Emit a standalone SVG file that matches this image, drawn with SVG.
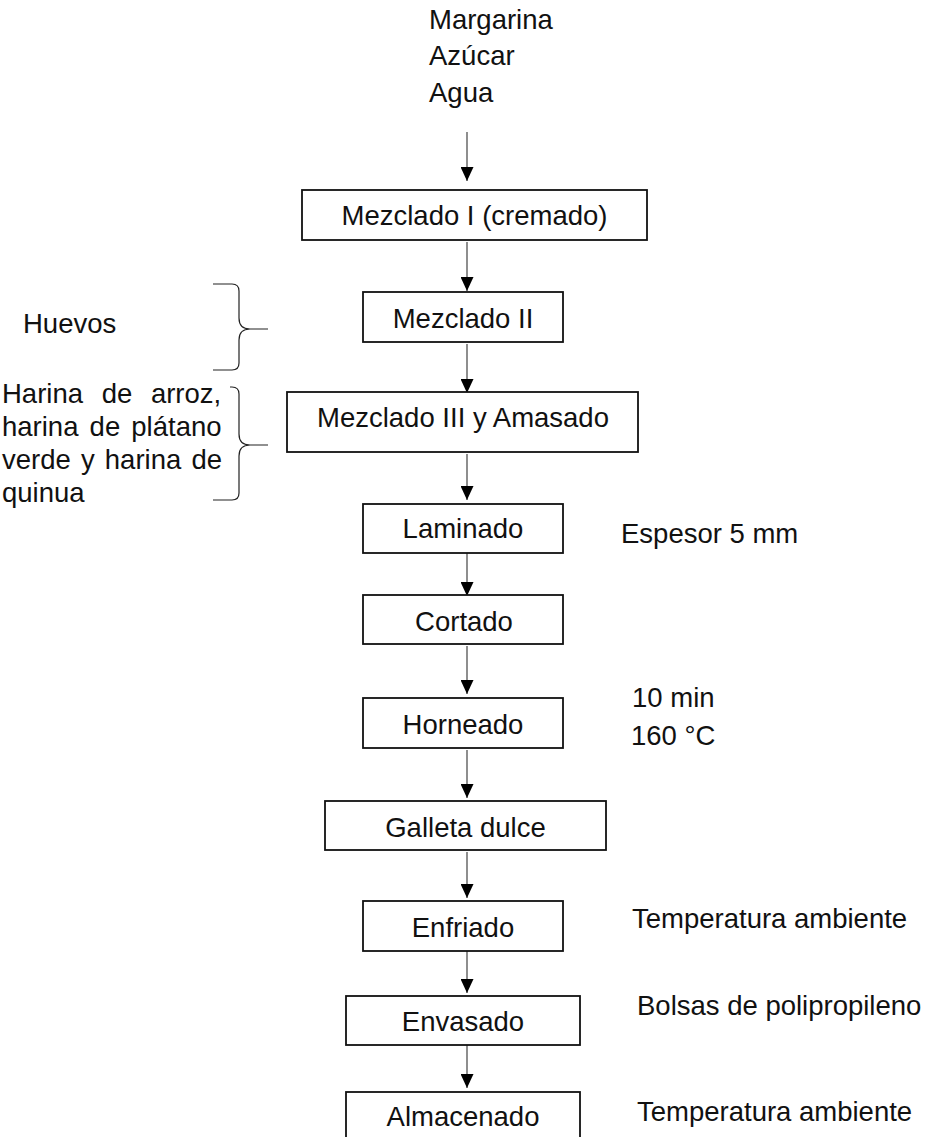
<svg xmlns="http://www.w3.org/2000/svg" width="928" height="1137" viewBox="0 0 928 1137">
<style>
text{font-family:"Liberation Sans",Arial,Helvetica,sans-serif;font-size:27.5px;fill:#111}
.c{text-anchor:middle}
.box{fill:#fff;stroke:#111;stroke-width:1.8}
.ln{stroke:#444;stroke-width:1.2;fill:none}
.br{stroke:#222;stroke-width:1.2;fill:none}
</style>
<defs>
<marker id="ah" markerWidth="14" markerHeight="13" refX="14" refY="6.5" orient="auto" markerUnits="userSpaceOnUse" viewBox="0 0 14 13">
<path d="M0,0 L14,6.5 L0,13 Z" fill="#000"/>
</marker>
</defs>
<rect width="928" height="1137" fill="#fff"/>
<g id="inputs-top">
<text x="429" y="29">Margarina</text>
<text x="429" y="65">Azúcar</text>
<text x="429" y="102">Agua</text>
</g>
<g id="input-huevos">
<text x="23" y="333">Huevos</text>
<path class="br" d="M213,284 L232,284 Q239,284 239,291 L239,318 Q239,329 250,329 L268,329 M239,363 L239,340 Q239,329 250,329 M213,370 L232,370 Q239,370 239,363"/>
</g>
<g id="input-harinas">
<text x="2" y="403" word-spacing="11">Harina de arroz,</text>
<text x="2" y="436" word-spacing="3.5">harina de plátano</text>
<text x="2" y="469" word-spacing="2.5">verde y harina de</text>
<text x="2" y="502">quinua</text>
<path class="br" d="M230,387 L232,387 Q239,387 239,394 L239,434 Q239,445 250,445 L268,445 M239,493 L239,456 Q239,445 250,445 M213,500 L232,500 Q239,500 239,493"/>
</g>
<g id="connectors">
<line class="ln" x1="467" y1="132" x2="467" y2="181" marker-end="url(#ah)"/>
<line class="ln" x1="467" y1="242" x2="467" y2="291" marker-end="url(#ah)"/>
<line class="ln" x1="467" y1="344" x2="467" y2="393" marker-end="url(#ah)"/>
<line class="ln" x1="467" y1="454" x2="467" y2="500" marker-end="url(#ah)"/>
<line class="ln" x1="467" y1="549" x2="467" y2="596" marker-end="url(#ah)"/>
<line class="ln" x1="467" y1="646" x2="467" y2="694" marker-end="url(#ah)"/>
<line class="ln" x1="467" y1="750" x2="467" y2="798" marker-end="url(#ah)"/>
<line class="ln" x1="467" y1="852" x2="467" y2="898" marker-end="url(#ah)"/>
<line class="ln" x1="467" y1="946" x2="467" y2="993" marker-end="url(#ah)"/>
<line class="ln" x1="467" y1="1040" x2="467" y2="1088" marker-end="url(#ah)"/>
</g>
<g id="mezclado1"><rect class="box" x="302" y="190" width="345" height="50"/><text class="c" x="474.5" y="225">Mezclado I (cremado)</text></g>
<g id="mezclado2"><rect class="box" x="363" y="292" width="200" height="50"/><text class="c" x="463" y="328">Mezclado II</text></g>
<g id="mezclado3"><rect class="box" x="287" y="392" width="351" height="60"/><text class="c" x="463" y="427">Mezclado III y Amasado</text></g>
<g id="laminado"><rect class="box" x="363" y="504" width="200" height="49"/><text class="c" x="463" y="538">Laminado</text></g>
<g id="cortado"><rect class="box" x="363" y="595" width="200" height="49"/><text class="c" x="464" y="631">Cortado</text></g>
<g id="horneado"><rect class="box" x="363" y="698" width="200" height="50"/><text class="c" x="463" y="734">Horneado</text></g>
<g id="galleta"><rect class="box" x="325" y="801" width="281" height="49"/><text class="c" x="465.5" y="837">Galleta dulce</text></g>
<g id="enfriado"><rect class="box" x="363" y="901" width="200" height="50"/><text class="c" x="463" y="937">Enfriado</text></g>
<g id="envasado"><rect class="box" x="346" y="996" width="234" height="49"/><text class="c" x="463" y="1031">Envasado</text></g>
<g id="almacenado"><rect class="box" x="346" y="1092" width="234" height="60"/><text class="c" x="463" y="1126">Almacenado</text></g>
<g id="notes">
<text x="621" y="543">Espesor 5 mm</text>
<text x="632" y="707">10 min</text>
<text x="631" y="745">160 °C</text>
<text x="632" y="928">Temperatura ambiente</text>
<text x="637" y="1015">Bolsas de polipropileno</text>
<text x="637" y="1121">Temperatura ambiente</text>
</g>
</svg>
